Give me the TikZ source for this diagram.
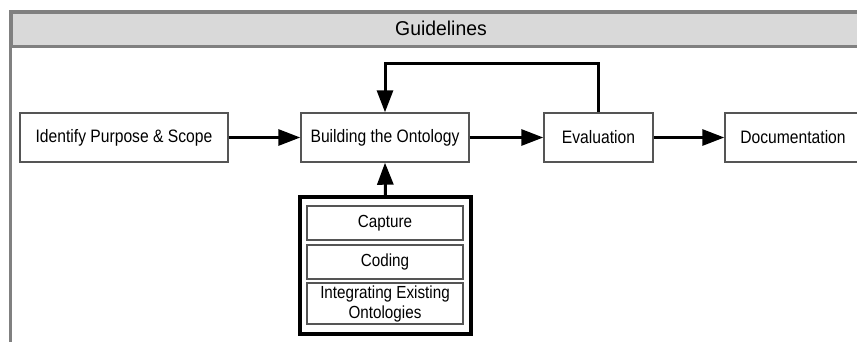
\documentclass[tikz,border=0pt]{standalone}
\usepackage{fontspec}
\usetikzlibrary{arrows.meta}
\newfontfamily\labfont[FakeStretch=0.87]{Liberation Sans}
\newfontfamily\titlefont[FakeStretch=0.97]{Liberation Sans}
\definecolor{hdrfill}{HTML}{D9D9D9}
\definecolor{frameg}{HTML}{808080}
\definecolor{boxg}{HTML}{555555}
\tikzset{
  stage/.style={draw=boxg, line width=1.4pt, fill=white, inner sep=0pt,
    font=\labfont\fontsize{18}{20}\selectfont, text=black},
  substage/.style={draw=boxg, line width=1.3pt, fill=white, inner sep=0pt,
    font=\labfont\fontsize{17.5}{20}\selectfont, align=center, minimum width=156pt},
  grp/.style={draw=black, line width=3.5pt, inner sep=0pt, minimum width=171pt, minimum height=137pt},
  arr/.style={line width=3pt, -{Triangle[length=22pt,width=16pt]}},
}
\begin{document}
\begin{tikzpicture}[x=1pt,y=-1pt]
\useasboundingbox (0,0) rectangle (857,341);
% frame and header
\draw[frameg, line width=3pt] (10,350) -- (10,11) -- (870,11);
\node[fill=hdrfill, draw=frameg, line width=3pt, minimum width=860pt, minimum height=34pt, inner sep=0pt,
  anchor=north west] (hdr) at (10,11) {};
\node[font=\titlefont\fontsize{20}{22}\selectfont] (title) at (441,28.5) {Guidelines};
% main stages
\node[stage, minimum width=208pt, minimum height=49pt] (ident) at (124,137.5) {Identify Purpose \& Scope};
\node[stage, minimum width=168pt, minimum height=49pt] (build) at (385,137.5) {Building the Ontology};
\node[stage, minimum width=109pt, minimum height=49pt] (eval) at (598.5,137.5) {Evaluation};
\node[stage, minimum width=136pt, minimum height=49pt] (doc) at (793,137.5) {Documentation};
% group
\node[grp] (group) at (385.5,265.5) {};
\node[substage, minimum height=34pt] (capture) at (385,223) {Capture};
\node[substage, minimum height=34pt] (coding) at (385,262) {Coding};
\node[substage, minimum height=41pt] (integ) at (385,303.5) {Integrating Existing\\Ontologies};
% connectors
\draw[arr] (ident) -- (build);
\draw[arr] (build) -- (eval);
\draw[arr] (eval) -- (doc);
\draw[arr] (eval.north) -- ++(0,-49) -| (build.north);
\draw[arr] (group.north) -- (build.south);
\end{tikzpicture}
\end{document}
